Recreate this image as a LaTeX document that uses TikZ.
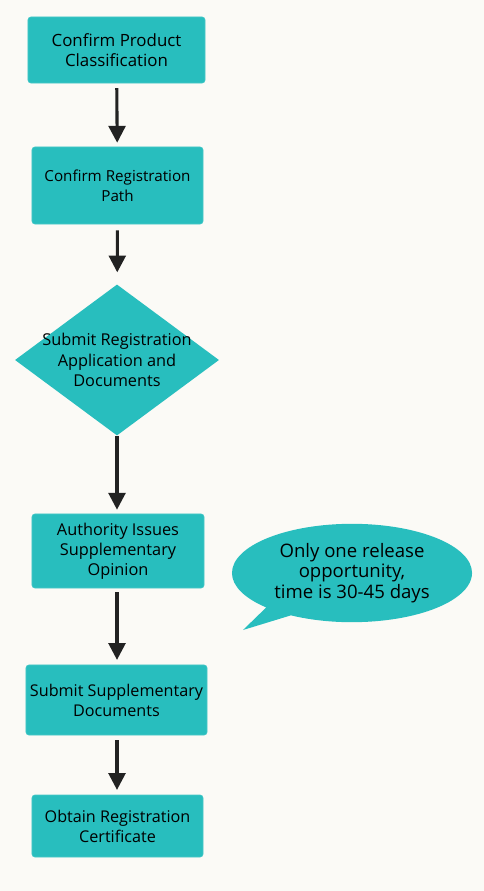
\documentclass[tikz,border=0pt]{standalone}
\usepackage{fontspec}
\setmainfont{Open Sans}
\usetikzlibrary{shapes.geometric,shapes.callouts,arrows.meta,positioning}
\definecolor{FlowTeal}{RGB}{40,190,190}
\definecolor{ArrowDark}{RGB}{34,34,34}
\definecolor{PaperBg}{RGB}{251,250,246}
\tikzset{
  stepbox/.style={rectangle,fill=FlowTeal,draw=FlowTeal!85!white,line width=0.4pt,
                  rounded corners=2pt,align=center,inner sep=2pt,
                  font=\fontsize{11.5}{14.2}\selectfont,text=black},
  decbox/.style={diamond,aspect=1.35,fill=FlowTeal,align=center,inner xsep=-0.4cm,inner ysep=-2pt,
                 minimum width=5.1cm,minimum height=3.775cm,
                 font=\fontsize{11.6}{14.4}\selectfont,text=black},
  notebox/.style={ellipse callout,fill=FlowTeal,align=center,
                  minimum width=6cm,minimum height=2.4cm,
                  font=\fontsize{13.2}{14.8}\selectfont,text=black},
  arr/.style={-{Triangle[length=0.42cm,width=0.42cm]},ArrowDark,line width=2.2pt},
}
\begin{document}
\begin{tikzpicture}[x=0.025cm,y=-0.025cm]
    % Background
    \fill[PaperBg] (0,0) rectangle (484,891);
    \useasboundingbox (0,0) rectangle (484,891);

    % Steps
    \node[stepbox, minimum width=4.425cm, minimum height=1.65cm, font=\fontsize{12}{14.6}\selectfont] (s1) at (116.5,50) {Confirm Product\\Classification};
    \node[stepbox, minimum width=4.275cm, minimum height=1.925cm, font=\fontsize{10.8}{14}\selectfont] (s2) at (117.5,185.5) {Confirm Registration\\Path};
    \node[decbox] (s3) at (117,360) {Submit Registration\\Application and\\Documents};
    \node[stepbox, minimum width=4.3cm, minimum height=1.85cm, font=\fontsize{11.6}{14.2}\selectfont] (s4) at (118,551) {Authority Issues\\Supplementary\\Opinion};
    \node[stepbox, minimum width=4.525cm, minimum height=1.75cm] (s5) at (116.5,700) {Submit Supplementary\\Documents};
    \node[stepbox, minimum width=4.275cm, minimum height=1.55cm] (s6) at (117.5,826) {Obtain Registration\\Certificate};

    % Note
    \node[notebox, callout absolute pointer={(243,630)}] (note) at (352,573) {Only one release\\opportunity,\\time is 30-45 days};

    % Arrows
    \draw[arr, shorten <=0.12cm, shorten >=0.1cm] (s1) -- (s2);
    \draw[arr, shorten <=0.15cm, shorten >=0.3cm] (s2) -- (s3);
    \draw[arr, shorten >=0.1cm] (s3) -- (s4.north -| s3);
    \draw[arr, shorten <=0.1cm, shorten >=0.12cm] (s4.south -| s3) -- (s5.north -| s3);
    \draw[arr, shorten <=0.12cm, shorten >=0.12cm] (s5.south -| s3) -- (s6.north -| s3);
\end{tikzpicture}
\end{document}
